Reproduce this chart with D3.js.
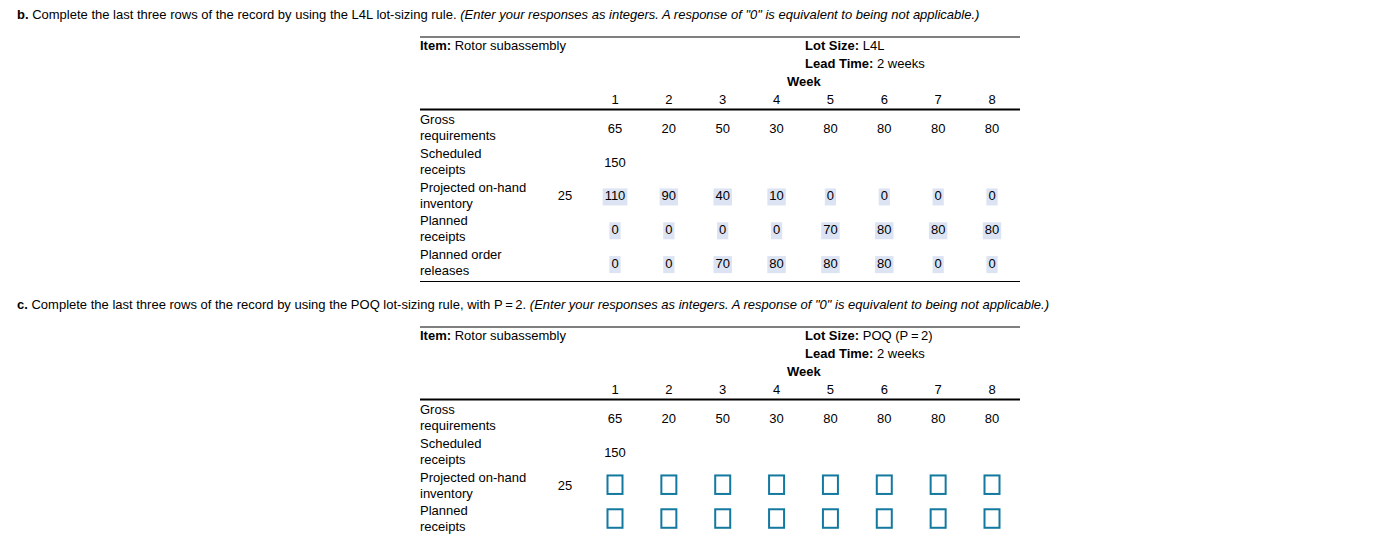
<!DOCTYPE html>
<html><head><meta charset="utf-8">
<script src="https://cdn.jsdelivr.net/npm/d3@7"></script>
<style>
html,body{margin:0;padding:0;background:#fff;}
svg{display:block;font-family:"Liberation Sans",Arial,Helvetica,sans-serif;}
</style></head>
<body>
<svg id="c" width="1375" height="558"></svg>
<script>
// ---- data ----
const weeks = [1, 2, 3, 4, 5, 6, 7, 8];
const grossRequirements = [65, 20, 50, 30, 80, 80, 80, 80];
const scheduledReceipts = [150, null, null, null, null, null, null, null];
const beginningInventory = 25;
const projectedL4L = [110, 90, 40, 10, 0, 0, 0, 0];
const plannedReceiptsL4L = [0, 0, 0, 0, 70, 80, 80, 80];
const plannedReleasesL4L = [0, 0, 70, 80, 80, 80, 0, 0];
const rowKeys = ["gross", "scheduled", "projected", "receipts", "releases"];
const rowLabels = [["Gross", "requirements"], ["Scheduled", "receipts"], ["Projected on-hand", "inventory"], ["Planned", "receipts"], ["Planned order", "releases"]];
const itemName = "Rotor subassembly";
const leadTime = "2 weeks";

const parts = [
  {
    head: "b.",
    text: " Complete the last three rows of the record by using the L4L lot-sizing rule. ",
    note: "(Enter your responses as integers. A response of \"0\" is equivalent to being not applicable.)",
    lotSize: "L4L",
    answers: [projectedL4L, plannedReceiptsL4L, plannedReleasesL4L],
    rowsShown: 5
  },
  {
    head: "c.",
    text: " Complete the last three rows of the record by using the POQ lot-sizing rule, with P\u2009=\u20092. ",
    note: "(Enter your responses as integers. A response of \"0\" is equivalent to being not applicable.)",
    lotSize: "POQ (P\u2009=\u20092)",
    answers: null,
    rowsShown: 4
  }
];

// ---- layout ----
const svg = d3.select("#c");
svg.append("rect").attr("width", 1375).attr("height", 558).attr("fill", "#fff");

const FS = 13;
const DY = 4.5;
const x = d3.scalePoint().domain(weeks).range([615, 992]);
const y = d3.scalePoint().domain(rowKeys).range([128.3, 263.6]);
const tableLeft = 420, tableRight = 1020;
const partOffset = d3.scaleOrdinal().domain(["b.", "c."]).range([0, 290]);

parts.forEach(p => {
  const g = svg.append("g").attr("transform", `translate(0,${partOffset(p.head)})`);

  const t = g.append("text").attr("x", 17).attr("y", 18.5).attr("font-size", FS).attr("fill", "#000");
  t.append("tspan").attr("font-weight", "bold").text(p.head);
  t.append("tspan").text(p.text);
  t.append("tspan").attr("font-style", "italic").text(p.note);

  g.append("line").attr("x1", tableLeft).attr("x2", tableRight).attr("y1", 37).attr("y2", 37)
    .attr("stroke", "#000").attr("stroke-width", 1);

  const item = g.append("text").attr("x", tableLeft).attr("y", 50).attr("font-size", FS);
  item.append("tspan").attr("font-weight", "bold").text("Item:");
  item.append("tspan").text(" " + itemName);

  const lot = g.append("text").attr("x", 805).attr("y", 50).attr("font-size", FS);
  lot.append("tspan").attr("font-weight", "bold").text("Lot Size:");
  lot.append("tspan").text(" " + p.lotSize);

  const lead = g.append("text").attr("x", 805).attr("y", 68).attr("font-size", FS);
  lead.append("tspan").attr("font-weight", "bold").text("Lead Time:");
  lead.append("tspan").text(" " + leadTime);

  g.append("text").attr("x", 787).attr("y", 86).attr("font-size", FS).attr("font-weight", "bold").text("Week");

  g.selectAll("text.wk").data(weeks).join("text").attr("class", "wk")
    .attr("x", d => x(d)).attr("y", 104).attr("text-anchor", "middle").attr("font-size", FS).text(d => d);

  g.append("line").attr("x1", tableLeft).attr("x2", tableRight).attr("y1", 109.5).attr("y2", 109.5)
    .attr("stroke", "#000").attr("stroke-width", 2.2);

  const keys = rowKeys.slice(0, p.rowsShown);
  keys.forEach((k, i) => {
    const cy = y(k);
    const lab = g.append("text").attr("x", tableLeft).attr("font-size", FS);
    lab.append("tspan").attr("x", tableLeft).attr("y", cy - 4.3).text(rowLabels[i][0]);
    lab.append("tspan").attr("x", tableLeft).attr("y", cy + 11.7).text(rowLabels[i][1]);
  });

  g.selectAll("text.gr").data(grossRequirements).join("text").attr("class", "gr")
    .attr("x", (d, i) => x(weeks[i])).attr("y", y("gross") + DY).attr("text-anchor", "middle")
    .attr("font-size", FS).text(d => d);
  g.selectAll("text.sr").data(scheduledReceipts.map((v, i) => ({v, w: weeks[i]})).filter(d => d.v != null))
    .join("text").attr("class", "sr")
    .attr("x", d => x(d.w)).attr("y", y("scheduled") + DY).attr("text-anchor", "middle")
    .attr("font-size", FS).text(d => d.v);
  g.append("text").attr("x", 565).attr("y", y("projected") + DY).attr("text-anchor", "middle")
    .attr("font-size", FS).text(beginningInventory);

  const ansKeys = ["projected", "receipts", "releases"].filter(k => keys.includes(k));
  if (p.answers) {
    ansKeys.forEach((k, r) => {
      const cells = g.selectAll(null).data(p.answers[r].map((v, i) => ({v, w: weeks[i]}))).join("g");
      cells.append("text").attr("x", d => x(d.w)).attr("y", y(k) + DY)
        .attr("text-anchor", "middle").attr("font-size", FS).text(d => d.v);
      cells.insert("rect", "text").each(function(d) {
        const tw = this.parentNode.querySelector("text").getComputedTextLength();
        d3.select(this).attr("x", x(d.w) - tw / 2 - 2).attr("width", tw + 4)
          .attr("y", y(k) - 7.5).attr("height", 17).attr("fill", "#dce3f2");
      });
    });
    g.append("line").attr("x1", tableLeft).attr("x2", tableRight).attr("y1", 281.5).attr("y2", 281.5)
      .attr("stroke", "#000").attr("stroke-width", 1.2);
  } else {
    ansKeys.forEach(k => {
      g.selectAll(null).data(weeks).join("rect")
        .attr("x", d => x(d) - 7.5).attr("y", y(k) - 10.5).attr("width", 15).attr("height", 18.5)
        .attr("fill", "#fff").attr("stroke", "#13799f").attr("stroke-width", 2);
    });
  }
});
</script>
</body></html>
